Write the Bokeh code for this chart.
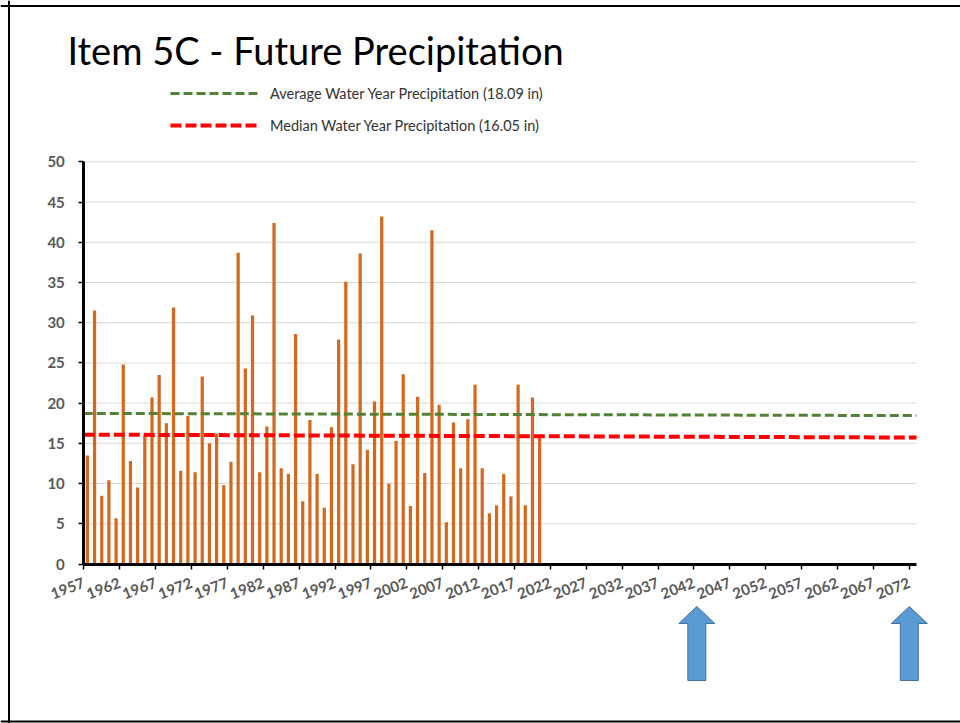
from bokeh.plotting import figure
from bokeh.models import (ColumnDataSource, FixedTicker, Legend, LegendItem,
                          Label, PolyAnnotation, Span)
from bokeh.embed import file_html
from bokeh.resources import INLINE

# ---------------- data ----------------
years = list(range(1957, 2021))
precip = [
    13.5, 31.5, 8.5, 10.4, 5.7, 24.8, 12.8, 9.5, 16.0, 20.7,   # 1957-1966
    23.5, 17.5, 31.9, 11.6, 18.4, 11.4, 23.3, 15.0, 16.2, 9.8,  # 1967-1976
    12.7, 38.7, 24.3, 30.9, 11.4, 17.1, 42.4, 11.9, 11.2, 28.6, # 1977-1986
    7.8, 17.9, 11.2, 7.0, 17.0, 27.9, 35.1, 12.4, 38.6, 14.2,   # 1987-1996
    20.2, 43.2, 10.0, 15.3, 23.6, 7.2, 20.8, 11.3, 41.5, 19.8,  # 1997-2006
    5.2, 17.6, 11.9, 18.0, 22.3, 11.9, 6.3, 7.3, 11.2, 8.4,     # 2007-2016
    22.3, 7.3, 20.7, 15.8,                                      # 2017-2020
]
tick_years = list(range(1957, 2073, 5))
y_ticks = list(range(0, 51, 5))
x_bounds = (1957, 2073)
y_bounds = (0, 50)

line_years = [1957, 2073]
avg_line = [18.72, 18.45]
median_line = [16.08, 15.72]

avg_label = "Average Water Year Precipitation (18.09 in)"
median_label = "Median Water Year Precipitation (16.05 in)"
title_text = "Item 5C - Future Precipitation"

arrow_years = [2042.4, 2072.0]

# ---------------- layout (pixels) ----------------
W, H = 960, 723
AX_L, AX_R = 83.3, 916.0      # pixel x of 1957 and 2073
AX_B, AX_T = 563.5, 161.3     # pixel y of 0 and 50

ppx = (AX_R - AX_L) / (x_bounds[1] - x_bounds[0])
ppy = (AX_B - AX_T) / (y_bounds[1] - y_bounds[0])
x_range = (x_bounds[0] - AX_L / ppx, x_bounds[0] + (W - AX_L) / ppx)
y_range = (y_bounds[0] - (H - AX_B) / ppy, y_bounds[1] + AX_T / ppy)

FONT = "Lato"
p = figure(width=W, height=H, x_range=x_range, y_range=y_range,
           output_backend="svg", toolbar_location=None, title_location=None,
           min_border_left=0, min_border_right=0,
           min_border_top=0, min_border_bottom=0)
p.outline_line_color = None
p.background_fill_color = "white"
p.border_fill_color = "white"
p.xgrid.visible = False
p.ygrid.visible = False

# horizontal gridlines (fill-only thin bars) limited to the plotting area
p.hbar(y=y_ticks[1:], left=x_bounds[0], right=x_bounds[1], height=1.0 / ppy,
       fill_color="#D9D9D9", line_color=None)

src = ColumnDataSource(dict(x=[y + 0.5 for y in years], top=precip))
p.vbar(x="x", top="top", width=0.45, bottom=0, source=src,
       fill_color="#D2691E", line_color=None)

avg_r = p.line(x=line_years, y=avg_line, line_color="#548235",
               line_width=3, line_dash="9 4")
med_r = p.line(x=line_years, y=median_line, line_color="#FF0000",
               line_width=4, line_dash="11 4")

# axes at fixed locations inside the full-canvas frame
p.xaxis.fixed_location = y_bounds[0]
p.xaxis.bounds = x_bounds
p.yaxis.fixed_location = x_bounds[0]
p.yaxis.bounds = y_bounds
p.xaxis.ticker = FixedTicker(ticks=tick_years)
p.yaxis.ticker = FixedTicker(ticks=y_ticks)
for ax in (p.xaxis, p.yaxis):
    ax.axis_line_width = 3
    ax.axis_line_color = "black"
    ax.major_tick_line_width = 1.5
    ax.major_tick_line_color = "black"
    ax.major_tick_in = 0
    ax.major_tick_out = 5
    ax.minor_tick_line_color = None
    ax.major_label_text_font = FONT
    ax.major_label_text_font_style = "bold"
    ax.major_label_text_color = "#595959"
p.yaxis.major_label_text_font_size = "15px"
p.yaxis.major_label_standoff = 14
p.xaxis.major_label_text_font_size = "15px"
p.xaxis.major_label_orientation = 0.36
p.xaxis.major_label_standoff = 13

# legend
legend = Legend(items=[LegendItem(label=avg_label, renderers=[avg_r]),
                       LegendItem(label=median_label, renderers=[med_r])],
                location=(170, H - 135), orientation="vertical",
                glyph_width=90, glyph_height=20, label_height=20,
                spacing=12, label_standoff=10, padding=0, margin=0,
                border_line_color=None, background_fill_alpha=0,
                label_text_font=FONT, label_text_font_size="14.5px",
                label_text_color="#333333")
p.add_layout(legend)

# title
p.add_layout(Label(x=67, y=H - 49.5, x_units="screen", y_units="screen",
                   text=title_text, text_font=FONT, text_font_size="38px",
                   text_color="black", text_baseline="alphabetic"))

# arrows below the axis
HEAD = 18 / ppx
SHAFT = 9 / ppx
for c in arrow_years:
    xs = [c, c + HEAD, c + SHAFT, c + SHAFT, c - SHAFT, c - SHAFT, c - HEAD]
    ys = [H - 606, H - 623, H - 623, H - 680, H - 680, H - 623, H - 623]
    p.add_layout(PolyAnnotation(xs=xs, ys=ys, xs_units="data", ys_units="screen",
                                fill_color="#5B9BD5", fill_alpha=1,
                                line_color="#41719C", line_alpha=1, line_width=1))

# slide border (top, left, bottom)
for loc, dim in ((H - 5.5, "width"), (2, "width"), (8.5, "height")):
    p.add_layout(Span(location=loc, location_units="screen", dimension=dim,
                      line_color="black", line_width=2))

open("out.html", "w").write(file_html(p, INLINE))
